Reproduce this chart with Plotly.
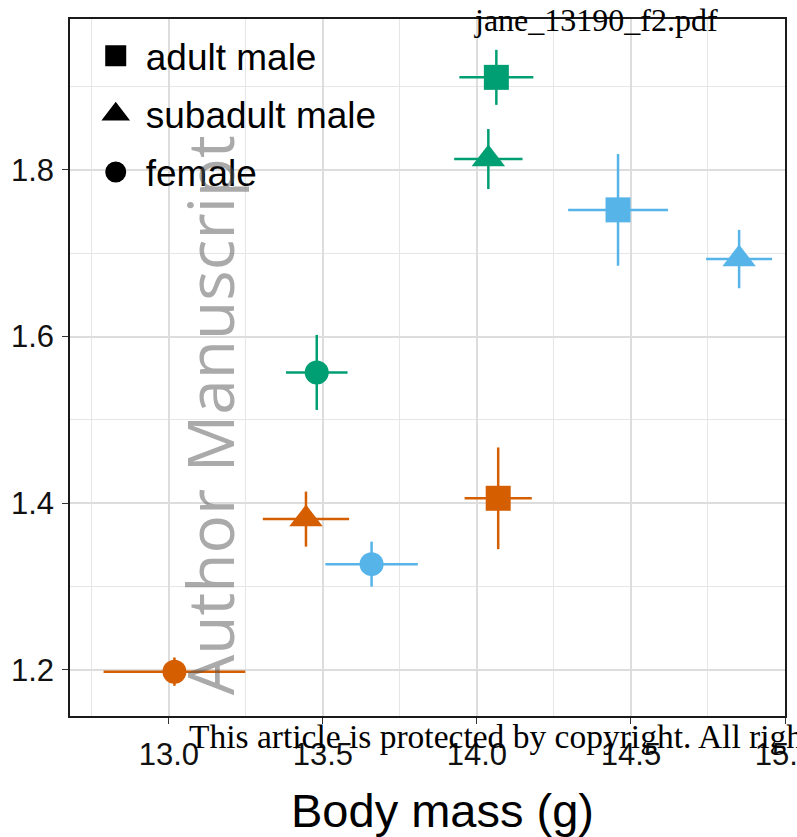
import plotly.graph_objects as go

# ---- data ----
classes = ["adult male", "subadult male", "female"]
class_symbols = ["square", "triangle-up", "circle"]

green_x = [14.063, 14.037, 13.480]
green_y = [1.911, 1.813, 1.557]
green_xerr = [0.120, 0.111, 0.100]
green_yerr = [0.033, 0.036, 0.045]

orange_x = [14.069, 13.445, 13.018]
orange_y = [1.406, 1.381, 1.198]
orange_xerr = [0.109, 0.140, 0.230]
orange_yerr = [0.061, 0.033, 0.017]

blue_x = [14.458, 14.851, 13.658]
blue_y = [1.752, 1.693, 1.327]
blue_xerr = [0.162, 0.107, 0.150]
blue_yerr = [0.067, 0.035, 0.027]

x_ticks = [13.0, 13.5, 14.0, 14.5, 15.0]
y_ticks = [1.2, 1.4, 1.6, 1.8]

groups = [
    ("#009E73", green_x, green_y, green_xerr, green_yerr),
    ("#D55E00", orange_x, orange_y, orange_xerr, orange_yerr),
    ("#56B4E9", blue_x, blue_y, blue_xerr, blue_yerr),
]

sizes = {"square": 25, "triangle-up": 29, "circle": 24}

fig = go.Figure()
for color, xs, ys, xe, ye in groups:
    fig.add_trace(go.Scatter(
        x=xs, y=ys, mode="markers", showlegend=False,
        text=classes,
        marker=dict(symbol=class_symbols, color=color, opacity=1,
                    size=[sizes[s] for s in class_symbols], line=dict(width=0)),
        error_x=dict(type="data", array=xe, symmetric=True, color=color, thickness=2.5, width=0),
        error_y=dict(type="data", array=ye, symmetric=True, color=color, thickness=2.5, width=0),
    ))

# legend keys (shape = class)
for i, (name, sym) in enumerate(zip(classes, class_symbols)):
    fig.add_trace(go.Scatter(
        x=[None], y=[None], mode="markers", name=name, legendgroup=f"g{i}",
        marker=dict(symbol=sym, color="black", size=16, line=dict(color="black", width=5)),
    ))

axis_common = dict(
    showline=True, linecolor="#1a1a1a", linewidth=1.5, mirror=True,
    ticks="outside", ticklen=6, tickwidth=1.2, tickcolor="#333333",
    tickfont=dict(family="Liberation Sans, Arial, sans-serif", size=31, color="#111111"),
    showgrid=True, gridcolor="#DDDDDD", gridwidth=1.5,
    zeroline=False, tickformat=".1f", automargin=False, ticklabeloverflow="allow",
)

fig.update_xaxes(range=[12.679, 15.0], tickvals=x_ticks,
                 minor=dict(dtick=0.25, tick0=12.75, showgrid=True, gridcolor="#E6E6E6", gridwidth=1, ticks=""),
                 ticklabelstandoff=4, **axis_common)
fig.update_yaxes(range=[1.1448, 1.981], tickvals=y_ticks,
                 minor=dict(dtick=0.1, tick0=1.1, showgrid=True, gridcolor="#E6E6E6", gridwidth=1, ticks=""),
                 ticklabelstandoff=2, **axis_common)

fig.update_layout(
    width=797, height=837,
    margin=dict(l=70, r=12, t=19, b=121, pad=0, autoexpand=False),
    paper_bgcolor="white", plot_bgcolor="white",
    showlegend=True,
    legend=dict(x=0.022, y=0.991, xanchor="left", yanchor="top", itemwidth=50,
                bgcolor="rgba(0,0,0,0)", tracegroupgap=7, traceorder="grouped",
                font=dict(family="Liberation Sans, Arial, sans-serif", size=37, color="black")),
    annotations=[
        dict(text="Body mass (g)", xref="paper", yref="paper", x=0.521, y=-0.135,
             xanchor="center", yanchor="middle", showarrow=False,
             font=dict(family="Liberation Sans, Arial, sans-serif", size=47, color="black")),
        dict(text="Author Manuscript", xref="paper", yref="paper", x=0.195, y=0.432,
             xanchor="center", yanchor="middle", showarrow=False, textangle=-90,
             font=dict(family="Open Sans, Liberation Sans, sans-serif", size=64,
                       color="rgba(85,85,85,0.5)")),
        dict(text="jane_13190_f2.pdf", xref="paper", yref="paper", x=0.735, y=0.9986,
             xanchor="center", yanchor="middle", showarrow=False,
             font=dict(family="Liberation Serif, Times New Roman, serif", size=32, color="black")),
        dict(text="This article is protected by copyright. All rights reserved.",
             xref="paper", yref="paper", x=0.1636, y=-0.0301,
             xanchor="left", yanchor="middle", showarrow=False,
             font=dict(family="Liberation Serif, Times New Roman, serif", size=33.5, color="black")),
    ],
)

fig.write_html("out.html")
